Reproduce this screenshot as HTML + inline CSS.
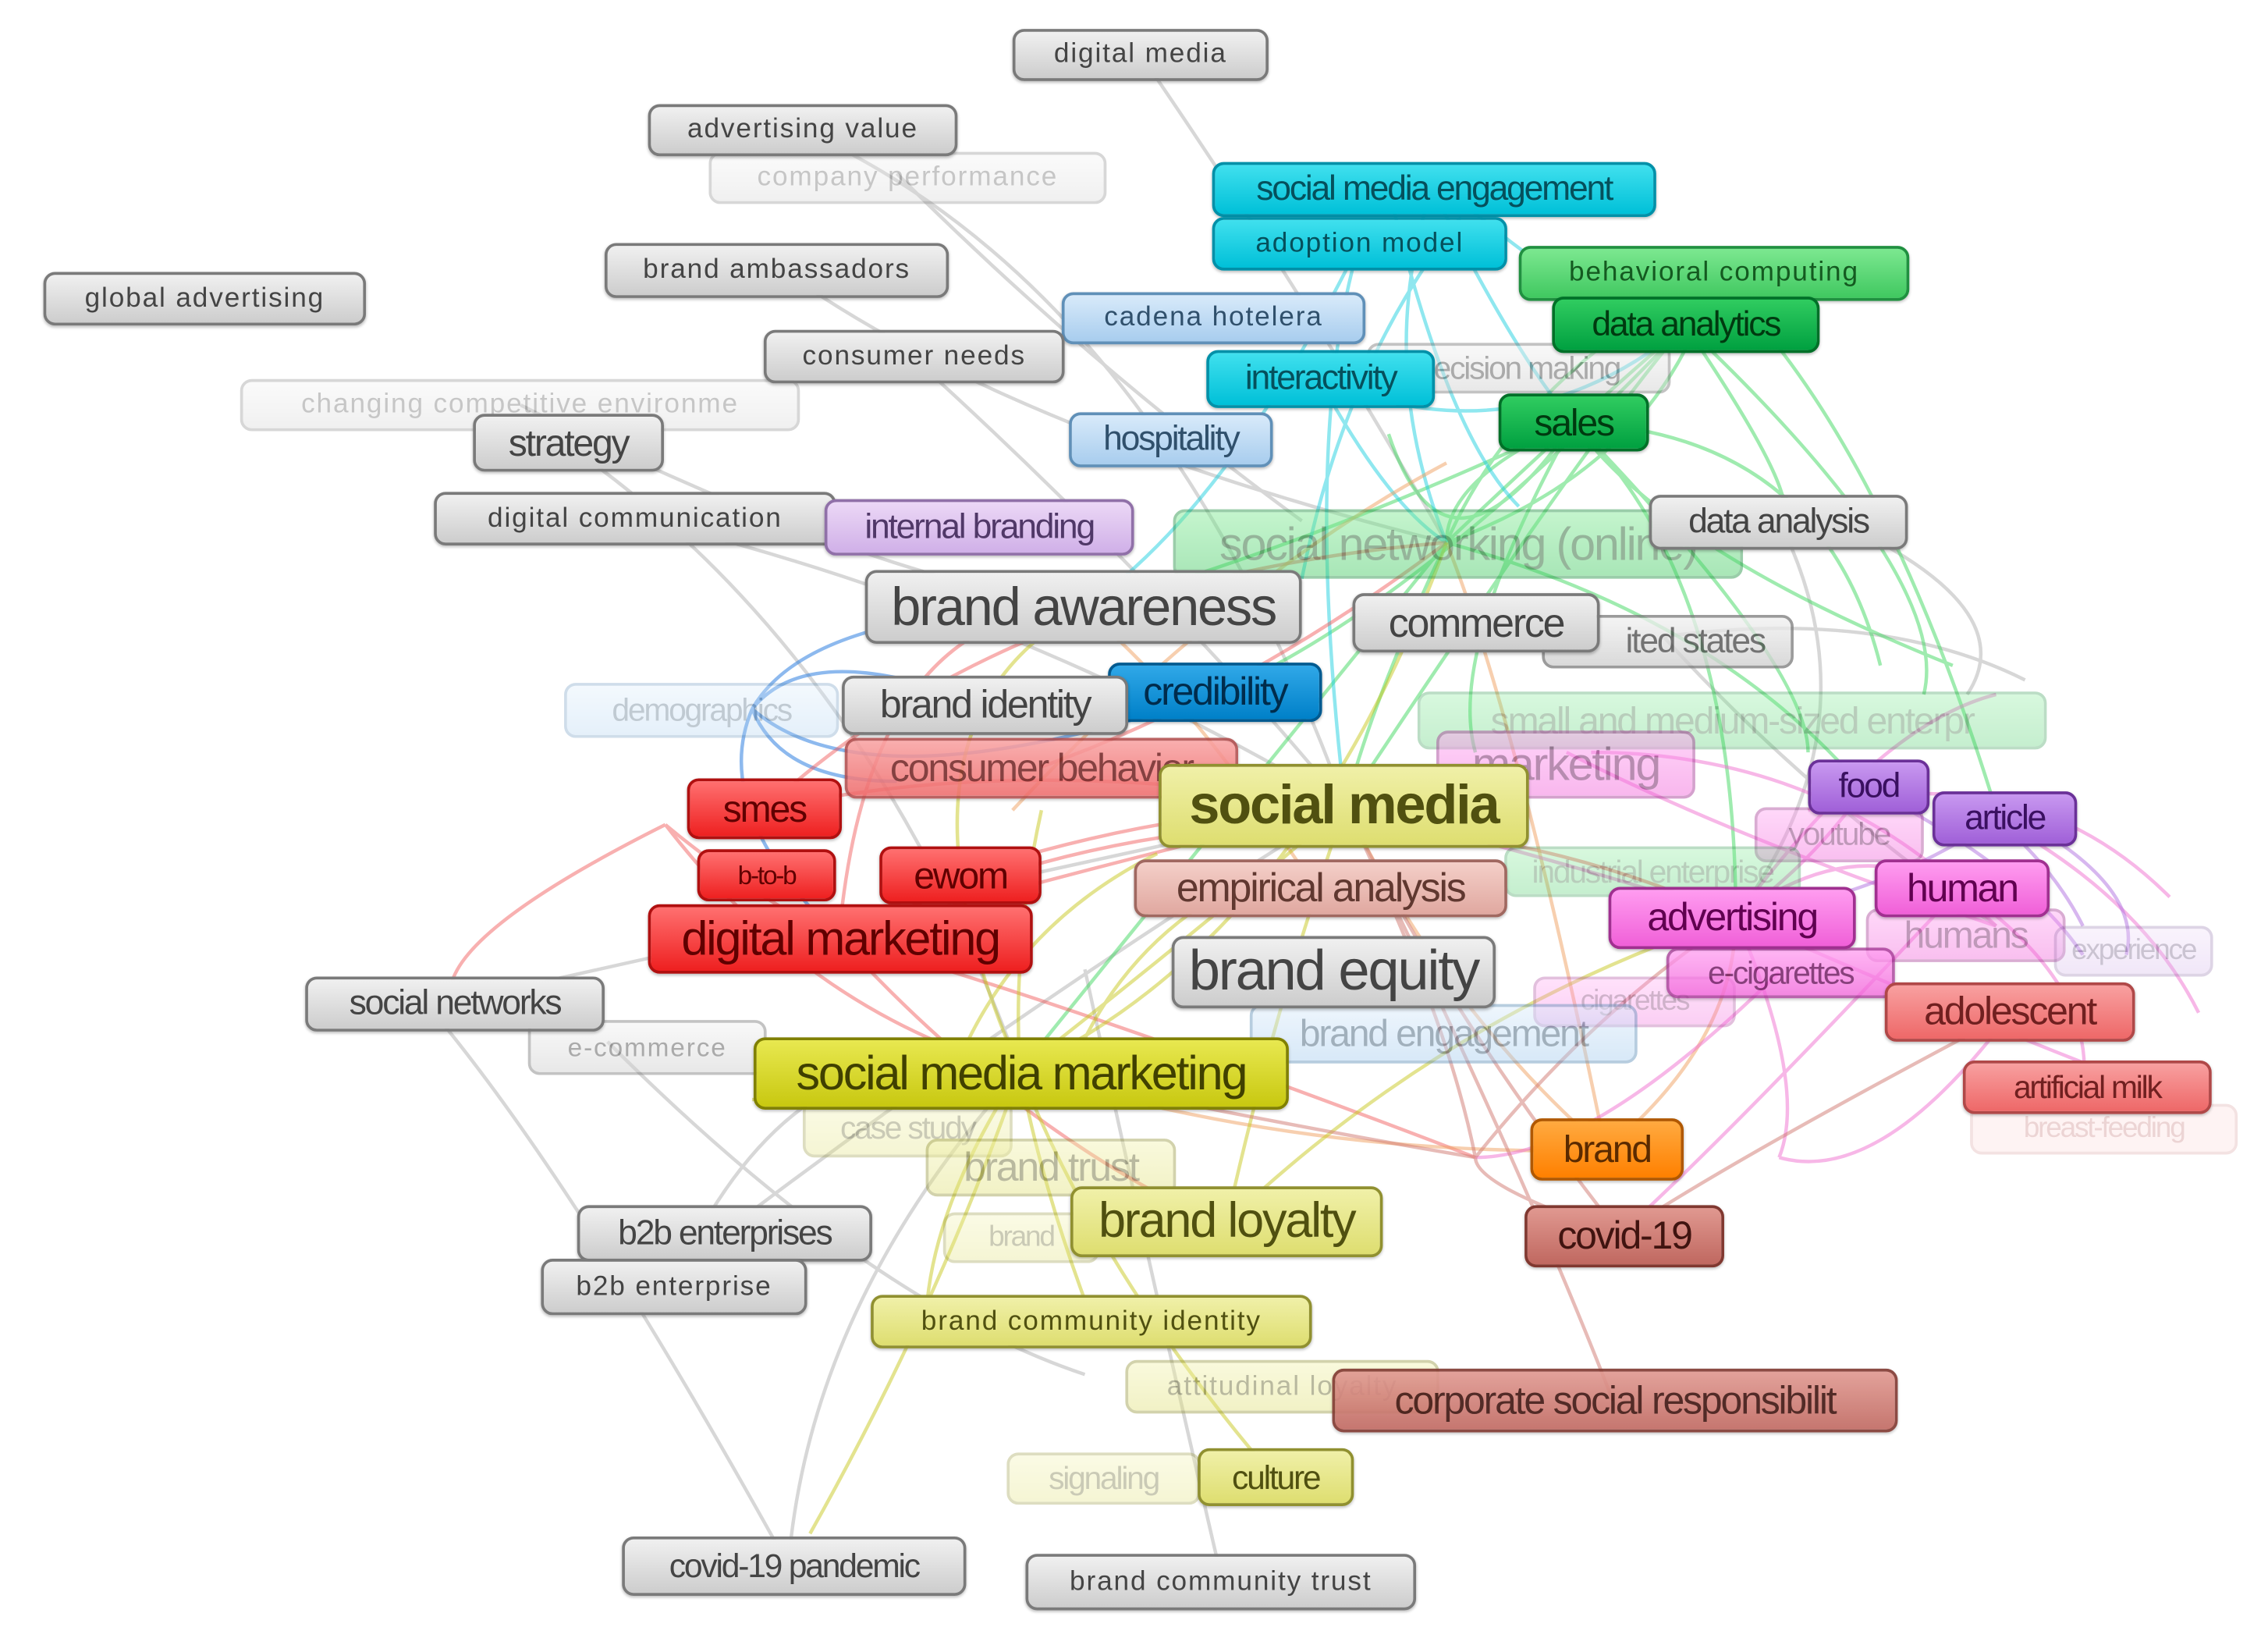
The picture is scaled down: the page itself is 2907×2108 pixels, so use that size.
<!DOCTYPE html>
<html><head><meta charset="utf-8">
<style>
html,body{margin:0;padding:0;background:#fff;}
#wrap{position:absolute;left:0;top:0;width:2907px;height:2108px;overflow:hidden;background:#fff;}
#s{position:absolute;left:0;top:0;width:1568px;height:1137px;transform:scale(1.854);transform-origin:0 0;}
.n{position:absolute;display:flex;align-items:center;justify-content:center;border-radius:8px;box-sizing:border-box;white-space:nowrap;overflow:hidden;border:2px solid #7a7a7a;font-family:"Liberation Sans",sans-serif;letter-spacing:-1.2px;color:#444;background:linear-gradient(#f0f0f0,#cdcdcd);box-shadow:0 1px 2px rgba(0,0,0,.25);}
.w{font-family:"Liberation Sans",sans-serif;letter-spacing:1px;}
.f{opacity:.3;box-shadow:none;}
.g{background:linear-gradient(#f0f0f0,#cdcdcd);border-color:#7a7a7a;color:#444;}
.cy{background:linear-gradient(#40e0ee,#00c0d8);border-color:#0090a8;color:#05505c;}
.lb{background:linear-gradient(#d8eafa,#a8cdee);border-color:#6090b8;color:#30506c;}
.gl{background:linear-gradient(#7ce890,#40c860);border-color:#209040;color:#145a20;}
.gr{background:linear-gradient(#30cc60,#00a040);border-color:#007028;color:#003a10;}
.bl{background:linear-gradient(#30a8e8,#0080c8);border-color:#005a90;color:#002c4c;}
.rd{background:linear-gradient(#ff7070,#ee2020);border-color:#b01010;color:#600000;}
.rl{background:linear-gradient(#f8a0a0,#ee6868);border-color:#b04848;color:#702020;}
.sa{background:linear-gradient(#f4cfc8,#e0a8a0);border-color:#a06860;color:#603830;}
.ye{background:linear-gradient(#f0f0a8,#dede70);border-color:#909030;color:#505010;}
.yb{background:linear-gradient(#e8e850,#c8c810);border-color:#808000;color:#404000;}
.pu{background:linear-gradient(#c898f0,#a060d8);border-color:#6a3098;color:#3a1060;}
.pk{background:linear-gradient(#ff9cf0,#f060d8);border-color:#a03090;color:#600050;}
.lv{background:linear-gradient(#ecd8f6,#d0b0e8);border-color:#9070a8;color:#503868;}
.or{background:linear-gradient(#ffaa40,#ff8000);border-color:#b05800;color:#5a2a00;}
.br{background:linear-gradient(#e09890,#c06860);border-color:#803830;color:#401410;}
</style></head><body>
<div id="wrap"><div id="s">
<svg width="1568" height="1137" style="position:absolute;left:0;top:0" fill="none" stroke-width="2.4">
<g stroke="#b0b0b0" opacity=".5">
<path d="M790 40 Q900 200 1000 375"/><path d="M555 90 Q800 200 930 557"/><path d="M540 186 Q700 300 1000 375"/><path d="M630 246 Q800 400 930 557"/><path d="M390 306 Q600 450 705 740"/><path d="M440 358 Q700 420 930 557"/><path d="M312 693 Q500 650 930 557"/><path d="M465 888 Q550 700 705 740"/><path d="M545 1082 Q560 900 705 740"/><path d="M845 1093 Q800 900 750 670"/><path d="M500 852 Q700 700 930 557"/><path d="M1230 360 Q1300 500 1200 634"/><path d="M1150 440 Q1250 550 1380 640"/><path d="M360 280 Q600 400 750 420"/><path d="M300 700 Q400 820 545 1082"/><path d="M420 720 Q600 900 750 950"/><path d="M620 120 Q750 250 900 360"/><path d="M1270 360 Q1400 420 1360 480"/><path d="M1150 440 Q1300 420 1400 470"/>
</g>
<g stroke="#40d860" opacity=".5">
<path d="M1088 292 Q1000 330 1000 375"/><path d="M1165 225 Q1100 300 930 557"/><path d="M1185 190 Q1050 260 1000 375"/><path d="M1088 292 Q1200 400 1200 634"/><path d="M1165 225 Q1250 350 1230 360"/><path d="M1088 292 Q900 380 750 420"/><path d="M1000 375 Q1200 430 1300 560"/><path d="M1185 190 Q1300 300 1380 560"/><path d="M1088 292 Q1150 380 1350 460"/><path d="M1000 375 Q950 480 930 557"/><path d="M1165 225 Q980 420 840 480"/><path d="M1088 292 Q1260 300 1300 460"/><path d="M1000 375 Q900 500 705 740"/><path d="M1088 292 Q1000 450 1020 520"/><path d="M1185 190 Q1150 320 1000 375"/><path d="M1165 225 Q1350 400 1330 480"/><path d="M1088 292 Q1250 460 1250 520"/><path d="M1000 375 Q1100 280 1165 225"/><path d="M960 300 Q1000 420 1088 292"/>
</g>
<g stroke="#20d0e0" opacity=".5">
<path d="M990 130 Q950 250 1000 375"/><path d="M940 168 Q900 300 930 557"/><path d="M912 262 Q960 350 1000 375"/><path d="M990 130 Q1050 250 1088 292"/><path d="M940 168 Q850 350 750 420"/><path d="M912 262 Q1050 320 1165 225"/><path d="M1000 130 Q1100 220 1165 225"/><path d="M960 130 Q1000 300 1050 350"/><path d="M1010 150 Q930 250 900 400"/>
</g>
<g stroke="#3080e0" opacity=".55">
<path d="M520 490 Q560 440 680 487"/><path d="M520 490 Q600 560 840 480"/><path d="M520 490 Q560 420 750 420"/><path d="M520 490 Q490 560 580 648"/><path d="M520 490 Q540 540 620 540"/>
</g>
<g stroke="#f05050" opacity=".45">
<path d="M580 648 Q750 600 930 557"/><path d="M528 560 Q700 520 930 557"/><path d="M580 648 Q600 420 750 420"/><path d="M460 570 Q560 700 705 740"/><path d="M580 648 Q700 780 840 845"/><path d="M720 530 Q860 480 1000 375"/><path d="M580 648 Q900 500 1200 634"/><path d="M460 570 Q300 650 312 693"/><path d="M528 560 Q700 400 1000 375"/><path d="M460 570 Q520 620 580 648"/><path d="M664 605 Q800 560 930 557"/><path d="M580 648 Q760 700 1020 800"/>
</g>
<g stroke="#f0a060" opacity=".5">
<path d="M1110 795 Q1000 700 930 557"/><path d="M1110 795 Q900 800 705 740"/><path d="M1110 795 Q1050 500 1000 375"/><path d="M1110 795 Q1200 720 1200 634"/><path d="M700 560 Q850 400 1000 320"/><path d="M900 600 Q800 450 720 400"/>
</g>
<g stroke="#c8c820" opacity=".5">
<path d="M705 740 Q820 650 930 557"/><path d="M705 740 Q760 880 880 1020"/><path d="M848 845 Q880 700 930 557"/><path d="M755 912 Q720 820 705 740"/><path d="M705 740 Q650 900 560 1060"/><path d="M705 740 Q900 650 1000 375"/><path d="M848 845 Q1000 700 1200 634"/><path d="M705 740 Q600 500 750 420"/><path d="M705 740 Q700 650 720 560"/><path d="M660 740 Q700 640 800 590"/><path d="M740 740 Q780 640 880 600"/><path d="M705 740 Q580 760 520 760"/><path d="M705 740 Q640 840 640 920"/>
</g>
<g stroke="#f070d0" opacity=".5">
<path d="M1200 634 Q1300 560 1380 640"/><path d="M1200 634 Q1100 600 930 557"/><path d="M1355 614 Q1450 680 1440 752"/><path d="M1390 700 Q1300 820 1230 800"/><path d="M1200 634 Q1250 750 1230 800"/><path d="M1290 544 Q1250 600 1200 634"/><path d="M1380 566 Q1480 620 1520 700"/><path d="M1083 520 Q1200 580 1380 640"/><path d="M1230 672 Q1100 800 1020 800"/><path d="M1355 614 Q1200 780 1120 853"/><path d="M1200 634 Q1350 700 1480 750"/><path d="M1250 560 Q1400 520 1500 620"/><path d="M1200 634 Q1300 500 1380 480"/><path d="M1100 520 Q1250 520 1355 614"/>
</g>
<g stroke="#d07870" opacity=".5">
<path d="M1120 853 Q1020 820 1020 800"/><path d="M1120 853 Q1000 700 930 557"/><path d="M1115 968 Q1050 800 930 557"/><path d="M1390 700 Q1200 800 1120 853"/><path d="M1020 800 Q1000 700 930 557"/><path d="M1020 800 Q900 780 705 740"/><path d="M1020 800 Q1100 700 1200 634"/>
</g>
<g stroke="#b070e0" opacity=".5">
<path d="M1380 566 Q1420 600 1440 640"/><path d="M1290 544 Q1400 600 1440 660"/><path d="M1380 566 Q1300 620 1200 634"/><path d="M1420 580 Q1480 620 1470 660"/>
</g>
</svg>

<!-- faded nodes -->
<div class="n g w f" style="left:490px;top:105px;width:275px;height:36px;font-size:19px;">company performance</div>
<div class="n g w f" style="left:166px;top:262px;width:387px;height:36px;font-size:19px;">changing competitive environme</div>
<div class="n g f" style="left:945px;top:237px;width:210px;height:35px;font-size:22px;opacity:.45">decision making</div>
<div class="n gl f" style="left:811px;top:352px;width:394px;height:48px;font-size:32px;opacity:.45">social networking (online)</div>
<div class="n g f" style="left:1066px;top:425px;width:174px;height:37px;font-size:24px;opacity:.75;justify-content:flex-end;padding-right:18px">ited states</div>
<div class="n lb f" style="left:390px;top:472px;width:190px;height:38px;font-size:22px;">demographics</div>
<div class="n gl f" style="left:980px;top:478px;width:435px;height:40px;font-size:26px;">small and medium-sized enterpr</div>
<div class="n pk f" style="left:993px;top:505px;width:179px;height:47px;font-size:32px;opacity:.45">marketing</div>
<div class="n pk f" style="left:1213px;top:558px;width:117px;height:38px;font-size:22px;opacity:.4">youtube</div>
<div class="n gl f" style="left:1040px;top:585px;width:205px;height:35px;font-size:22px;">industrial enterprise</div>
<div class="n pk f" style="left:1290px;top:628px;width:138px;height:37px;font-size:26px;opacity:.4">humans</div>
<div class="n lv f" style="left:1420px;top:640px;width:110px;height:35px;font-size:20px;">experience</div>
<div class="n pk f" style="left:1060px;top:675px;width:140px;height:35px;font-size:20px;">cigarettes</div>
<div class="n g w f" style="left:365px;top:705px;width:165px;height:38px;font-size:18px;opacity:.45">e-commerce</div>
<div class="n lb f" style="left:864px;top:694px;width:268px;height:41px;font-size:26px;opacity:.45">brand engagement</div>
<div class="n ye f" style="left:1362px;top:763px;width:185px;height:35px;font-size:20px;background:#fbd8d8;border-color:#d8a0a0;color:#c07070">breast-feeding</div>
<div class="n ye f" style="left:555px;top:760px;width:145px;height:40px;font-size:22px;">case study</div>
<div class="n ye f" style="left:640px;top:787px;width:173px;height:40px;font-size:28px;opacity:.4">brand trust</div>
<div class="n ye f" style="left:652px;top:838px;width:108px;height:35px;font-size:20px;">brand</div>
<div class="n ye w f" style="left:778px;top:940px;width:217px;height:37px;font-size:19px;opacity:.4">attitudinal loyalty</div>
<div class="n ye f" style="left:696px;top:1004px;width:134px;height:36px;font-size:22px;">signaling</div>

<!-- solid nodes -->
<div class="n g w" style="left:700px;top:20px;width:177px;height:36px;font-size:19px;">digital media</div>
<div class="n g w" style="left:448px;top:72px;width:214px;height:36px;font-size:19px;">advertising value</div>
<div class="n cy" style="left:838px;top:112px;width:307px;height:38px;font-size:24px;">social media engagement</div>
<div class="n cy w" style="left:838px;top:150px;width:204px;height:37px;font-size:19px;">adoption model</div>
<div class="n g w" style="left:30px;top:188px;width:223px;height:37px;font-size:19px;">global advertising</div>
<div class="n g w" style="left:418px;top:168px;width:238px;height:38px;font-size:19px;">brand ambassadors</div>
<div class="n gl w" style="left:1050px;top:170px;width:270px;height:38px;font-size:19px;">behavioral computing</div>
<div class="n gr" style="left:1073px;top:205px;width:185px;height:39px;font-size:24px;">data analytics</div>
<div class="n lb w" style="left:734px;top:202px;width:210px;height:36px;font-size:19px;">cadena hotelera</div>
<div class="n g w" style="left:528px;top:228px;width:208px;height:37px;font-size:19px;">consumer needs</div>
<div class="n cy" style="left:834px;top:242px;width:158px;height:40px;font-size:24px;">interactivity</div>
<div class="n gr" style="left:1036px;top:272px;width:104px;height:40px;font-size:26px;">sales</div>
<div class="n g" style="left:327px;top:286px;width:132px;height:40px;font-size:26px;">strategy</div>
<div class="n lb" style="left:739px;top:285px;width:141px;height:38px;font-size:24px;">hospitality</div>
<div class="n g w" style="left:300px;top:340px;width:278px;height:37px;font-size:19px;">digital communication</div>
<div class="n lv" style="left:570px;top:345px;width:214px;height:39px;font-size:24px;">internal branding</div>
<div class="n g" style="left:1140px;top:342px;width:179px;height:38px;font-size:24px;">data analysis</div>
<div class="n g" style="left:598px;top:394px;width:302px;height:51px;font-size:37px;">brand awareness</div>
<div class="n g" style="left:935px;top:410px;width:171px;height:41px;font-size:28px;">commerce</div>
<div class="n bl" style="left:766px;top:458px;width:148px;height:41px;font-size:27px;">credibility</div>
<div class="n g" style="left:582px;top:467px;width:198px;height:41px;font-size:27px;">brand identity</div>
<div class="n rl" style="left:584px;top:510px;width:272px;height:42px;font-size:27px;opacity:.85">consumer behavior</div>
<div class="n ye" style="left:801px;top:528px;width:256px;height:58px;font-size:38px;font-weight:bold;">social media</div>
<div class="n rd" style="left:475px;top:538px;width:107px;height:42px;font-size:26px;">smes</div>
<div class="n pu" style="left:1250px;top:525px;width:84px;height:38px;font-size:24px;">food</div>
<div class="n pu" style="left:1336px;top:547px;width:100px;height:38px;font-size:24px;">article</div>
<div class="n rd" style="left:482px;top:587px;width:96px;height:36px;font-size:18px;">b-to-b</div>
<div class="n rd" style="left:608px;top:585px;width:112px;height:40px;font-size:26px;">ewom</div>
<div class="n sa" style="left:784px;top:594px;width:258px;height:40px;font-size:28px;">empirical analysis</div>
<div class="n pk" style="left:1296px;top:594px;width:121px;height:40px;font-size:27px;">human</div>
<div class="n pk" style="left:1112px;top:613px;width:171px;height:43px;font-size:27px;">advertising</div>
<div class="n rd" style="left:448px;top:625px;width:266px;height:48px;font-size:33px;">digital marketing</div>
<div class="n pk" style="left:1152px;top:655px;width:158px;height:35px;font-size:22px;opacity:.75">e-cigarettes</div>
<div class="n g" style="left:810px;top:647px;width:224px;height:50px;font-size:39px;">brand equity</div>
<div class="n g" style="left:211px;top:675px;width:207px;height:38px;font-size:24px;">social networks</div>
<div class="n rl" style="left:1303px;top:679px;width:173px;height:41px;font-size:27px;">adolescent</div>
<div class="n yb" style="left:521px;top:717px;width:370px;height:50px;font-size:33px;">social media marketing</div>
<div class="n rl" style="left:1357px;top:733px;width:172px;height:37px;font-size:22px;">artificial milk</div>
<div class="n or" style="left:1058px;top:773px;width:106px;height:43px;font-size:26px;">brand</div>
<div class="n ye" style="left:740px;top:820px;width:216px;height:49px;font-size:34px;">brand loyalty</div>
<div class="n g" style="left:399px;top:833px;width:204px;height:39px;font-size:24px;">b2b enterprises</div>
<div class="n br" style="left:1054px;top:833px;width:138px;height:43px;font-size:27px;">covid-19</div>
<div class="n g w" style="left:374px;top:870px;width:184px;height:39px;font-size:19px;">b2b enterprise</div>
<div class="n ye w" style="left:602px;top:895px;width:305px;height:37px;font-size:19px;">brand community identity</div>
<div class="n br" style="left:921px;top:946px;width:391px;height:44px;font-size:27px;opacity:.9">corporate social responsibilit</div>
<div class="n ye" style="left:828px;top:1001px;width:108px;height:40px;font-size:23px;">culture</div>
<div class="n g" style="left:430px;top:1062px;width:238px;height:41px;font-size:23px;">covid-19 pandemic</div>
<div class="n g w" style="left:709px;top:1074px;width:270px;height:39px;font-size:19px;">brand community trust</div>
</div></div>
</body></html>
